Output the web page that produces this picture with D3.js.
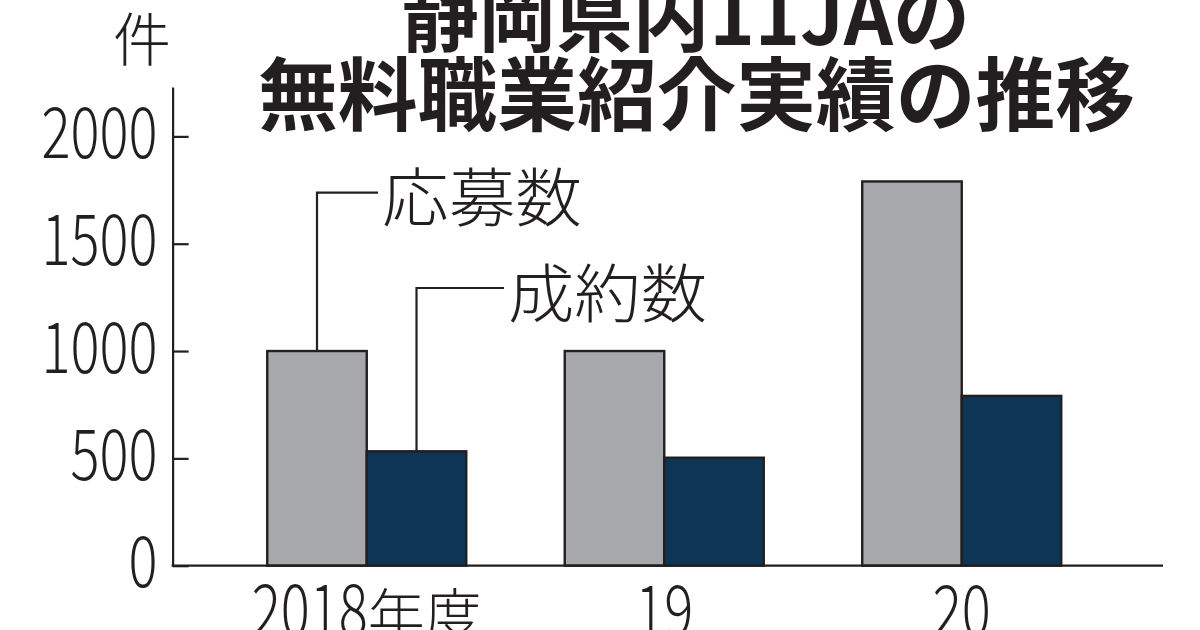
<!DOCTYPE html>
<html><head><meta charset="utf-8">
<script src="https://cdn.jsdelivr.net/npm/d3@7"></script>
<style>
html,body{margin:0;padding:0;background:#fff;}
svg{display:block;}
text{font-family:"Noto Sans CJK JP","Noto Sans",sans-serif;fill:#231f20;}
</style></head>
<body>
<svg id="chart" width="1200" height="630"></svg>
<script>
// ---- data ----
const categories = ["2018", "19", "20"];
const categorySuffix = ["年度", "", ""];
const seriesNames = ["応募数", "成約数"];
const applicants = [1000, 1000, 1790];
const contracts = [533, 503, 791];
const yTicks = [0, 500, 1000, 1500, 2000];
const titleLines = ["静岡県内11JAの", "無料職業紹介実績の推移"];
const unitLabel = "件";

const colors = ["#a7a8ac", "#0c3556"];
const ink = "#231f20";

const svg = d3.select("#chart");

const y = d3.scaleLinear().domain([0, 2230]).range([565.7, 87]);
const x0 = d3.scaleBand().domain(categories).range([218, 1110.5]).paddingInner(0.331).paddingOuter(0.1655);
const x1 = d3.scaleBand().domain([0, 1]).range([0, x0.bandwidth()]);

const seriesValues = [applicants, contracts];

// bars
const groups = svg.append("g").selectAll("g").data(categories).join("g")
  .attr("transform", d => `translate(${x0(d)},0)`);
groups.selectAll("rect").data((d, i) => seriesValues.map((s, k) => ({k, v: s[i]}))).join("rect")
  .attr("x", d => x1(d.k))
  .attr("y", d => y(d.v))
  .attr("width", x1.bandwidth())
  .attr("height", d => y(0) - y(d.v))
  .attr("fill", d => colors[d.k])
  .attr("stroke", ink)
  .attr("stroke-width", 2.4);

// y axis
const axisX = 172.6;
const fmt = d3.format("d");
const yAxis = d3.axisLeft(y).tickValues(yTicks).tickFormat(fmt)
  .tickSizeInner(-16).tickSizeOuter(0).tickPadding(15);
const gy = svg.append("g").attr("transform", `translate(${axisX},0)`).call(yAxis);
gy.select(".domain").attr("stroke", ink).attr("stroke-width", 2.2);
gy.selectAll(".tick line").attr("stroke", ink).attr("stroke-width", 2.2);
gy.selectAll(".tick text")
  .attr("font-size", 70)
  .attr("font-weight", 300)
  .attr("fill", ink)
  .attr("dy", "0.3em")
  .style("font-family", '"Noto Sans CJK JP", sans-serif')
  .attr("textLength", d => fmt(d).length * 29)
  .attr("lengthAdjust", "spacingAndGlyphs");

// baseline
svg.append("line")
  .attr("x1", axisX - 1).attr("x2", 1163)
  .attr("y1", y(0)).attr("y2", y(0))
  .attr("stroke", ink).attr("stroke-width", 2.2);

// x labels
categories.forEach((c, i) => {
  const t = svg.append("text")
    .attr("x", x0(c) + x0.bandwidth() / 2)
    .attr("y", 636)
    .attr("text-anchor", "middle")
    .attr("font-weight", 300);
  t.append("tspan").attr("font-size", 70)
    .attr("textLength", c.length * 29).attr("lengthAdjust", "spacingAndGlyphs")
    .text(c);
  if (categorySuffix[i]) t.append("tspan").attr("font-size", 57).text(categorySuffix[i]);
});

// unit label
svg.append("text").attr("x", 142).attr("y", 61).attr("text-anchor", "middle")
  .attr("font-size", 58).attr("font-weight", 300).text(unitLabel);

// title
svg.append("text").attr("x", 402).attr("y", 45)
  .attr("font-size", 80).attr("font-weight", 700)
  .attr("textLength", 568).attr("lengthAdjust", "spacingAndGlyphs")
  .text(titleLines[0]);
svg.append("text").attr("x", 258).attr("y", 124)
  .attr("font-size", 80).attr("font-weight", 700)
  .attr("textLength", 877).attr("lengthAdjust", "spacingAndGlyphs")
  .text(titleLines[1]);

// series labels with leader lines (on first category)
const c0 = categories[0];
const legendSpec = [
  {k: 0, lineY: 192.7, textX: 382, textY: 221, len: 200},
  {k: 1, lineY: 288, textX: 508, textY: 317, len: 199}
];
legendSpec.forEach(s => {
  const bx = x0(c0) + x1(s.k) + x1.bandwidth() / 2;
  const top = y(seriesValues[s.k][0]);
  svg.append("path")
    .attr("d", `M${bx},${top}V${s.lineY}H${s.textX - 4}`)
    .attr("fill", "none").attr("stroke", ink).attr("stroke-width", 2.2);
  svg.append("text").attr("x", s.textX).attr("y", s.textY)
    .attr("font-size", 64).attr("font-weight", 300)
    .attr("textLength", s.len).attr("lengthAdjust", "spacingAndGlyphs")
    .text(seriesNames[s.k]);
});
</script>
</body></html>
